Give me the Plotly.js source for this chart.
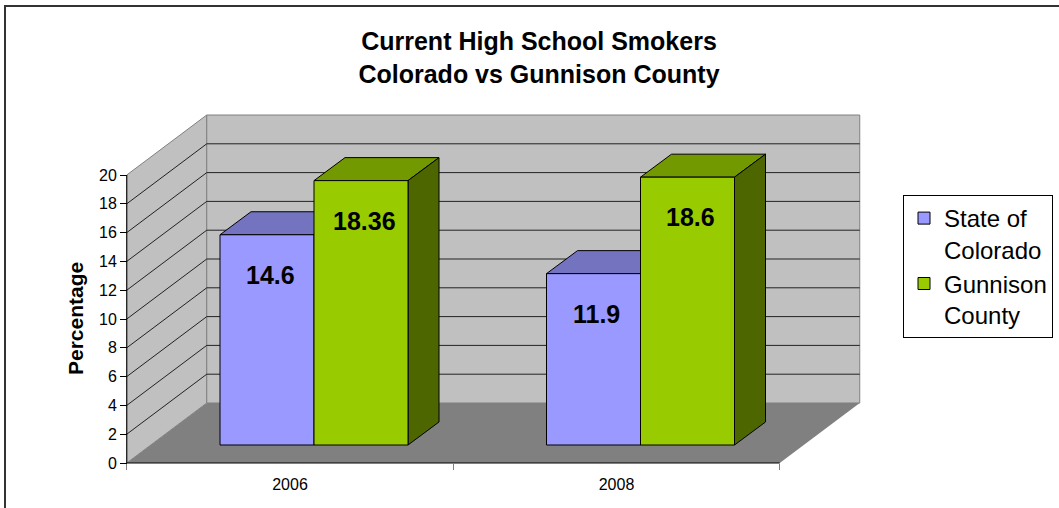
<!DOCTYPE html>
<html><head><meta charset="utf-8">
<script src="https://cdn.plot.ly/plotly-3.0.1.min.js"></script>
<style>
html,body{margin:0;padding:0;background:#fff;overflow:hidden}
#chart{width:1059px;height:508px}
#frame{position:absolute;left:4px;top:5px;width:1100px;height:600px;border:2px solid #333;pointer-events:none;box-sizing:border-box}
</style></head><body>
<div id="chart"></div><div id="frame"></div>
<script>
// ---- data ----
const years = ['2006', '2008'];
const seriesNames = ['State of<br>Colorado', 'Gunnison<br>County'];
const colorado = [14.6, 11.9];
const gunnison = [18.36, 18.6];
const yTickVals = [0, 2, 4, 6, 8, 10, 12, 14, 16, 18, 20];
const yMax = 20;

// ---- geometry (pixels) ----
const PX_X = 326.5, PX_Y = 14.4;          // pixels per category / per unit
const ORIGIN_X = 290, ORIGIN_Y = 463;     // front plane: category 0 centre, value 0
const BAR_DX = 24, BAR_DY = 18;           // bar plane offset from front plane
const TOP_DX = 31, TOP_DY = 23;           // bar depth
const WALL_DX = 80, WALL_DY = 60;         // back wall offset
const PLOT_L = 117, PLOT_R = 870, PLOT_T = 105, PLOT_B = 473;
const W = 1059, H = 508;
const PW = PLOT_R - PLOT_L, PH = PLOT_B - PLOT_T;

const xr1 = [(PLOT_L - ORIGIN_X) / PX_X, (PLOT_R - ORIGIN_X) / PX_X];
const yr1 = [(ORIGIN_Y - PLOT_B) / PX_Y, (ORIGIN_Y - PLOT_T) / PX_Y];
const xr2 = [(PLOT_L - ORIGIN_X - BAR_DX) / PX_X, (PLOT_R - ORIGIN_X - BAR_DX) / PX_X];
const yr2 = [(ORIGIN_Y - BAR_DY - PLOT_B) / PX_Y, (ORIGIN_Y - BAR_DY - PLOT_T) / PX_Y];

const BW = 94 / PX_X;
const DDX = TOP_DX / PX_X, DDY = TOP_DY / PX_Y;
const DXB = WALL_DX / PX_X, DYB = WALL_DY / PX_Y;
const catX = years.map((_, i) => i);
const xLeft = -0.5, xRight = years.length - 0.5;

const front = ['#9999FF', '#99CC00'];
const topC = ['#7373BF', '#739900'];
const sideC = ['#4D4D80', '#4D6600'];
const offsets = [-BW, 0];
const series = [colorado, gunnison];

const shapes = [];
const P = pts => 'M' + pts.map(p => p[0] + ',' + p[1]).join('L') + 'Z';
// floor
shapes.push({type:'path', xref:'x', yref:'y', layer:'below', fillcolor:'#808080', line:{width:0},
  path:P([[xLeft,0],[xRight,0],[xRight+DXB,DYB],[xLeft+DXB,DYB]])});
// side wall
shapes.push({type:'path', xref:'x', yref:'y', layer:'below', fillcolor:'#C0C0C0', line:{color:'#808080', width:1},
  path:P([[xLeft,0],[xLeft,yMax],[xLeft+DXB,yMax+DYB],[xLeft+DXB,DYB]])});
// back wall
shapes.push({type:'path', xref:'x', yref:'y', layer:'below', fillcolor:'#C0C0C0', line:{color:'#808080', width:1},
  path:P([[xLeft+DXB,DYB],[xLeft+DXB,yMax+DYB],[xRight+DXB,yMax+DYB],[xRight+DXB,DYB]])});
// gridlines
yTickVals.filter(v => v > 0 && v < yMax).forEach(v => {
  shapes.push({type:'line', xref:'x', yref:'y', layer:'below', line:{color:'#222', width:1},
    x0:xLeft, y0:v, x1:xLeft+DXB, y1:v+DYB});
  shapes.push({type:'line', xref:'x', yref:'y', layer:'below', line:{color:'#222', width:1},
    x0:xLeft+DXB, y0:v+DYB, x1:xRight+DXB, y1:v+DYB});
});
// axis lines
shapes.push({type:'line', xref:'x', yref:'y', layer:'below', line:{color:'#000', width:1}, x0:xLeft, y0:0, x1:xLeft, y1:yMax});
shapes.push({type:'line', xref:'x', yref:'y', layer:'below', line:{color:'#000', width:1}, x0:xLeft, y0:0, x1:xRight, y1:0});
// bar top and side faces
series.forEach((vals, s) => {
  vals.forEach((v, i) => {
    const l = catX[i] + offsets[s], r = l + BW;
    shapes.push({type:'path', xref:'x2', yref:'y2', layer:'below', fillcolor:topC[s], line:{color:'#000', width:1},
      path:P([[l,v],[l+DDX,v+DDY],[r+DDX,v+DDY],[r,v]])});
    shapes.push({type:'path', xref:'x2', yref:'y2', layer:'below', fillcolor:sideC[s], line:{color:'#000', width:1},
      path:P([[r,0],[r+DDX,DDY],[r+DDX,v+DDY],[r,v]])});
  });
});

const traces = series.map((vals, s) => ({
  type:'bar', x:catX, y:vals, xaxis:'x2', yaxis:'y2', name:seriesNames[s],
  width:BW, offset:offsets[s], marker:{color:front[s], line:{color:'#000', width:1}},
  hoverinfo:'skip'
}));

const annotations = [];
series.forEach((vals, s) => {
  vals.forEach((v, i) => {
    annotations.push({xref:'x2', yref:'y2', x:catX[i] + offsets[s] + BW/2, y:v, yshift:-40, xshift:3,
      text:String(v), showarrow:false, xanchor:'center', yanchor:'middle',
      font:{family:'Arial, Liberation Sans, sans-serif', size:25, color:'#000', weight:'bold'}});
  });
});
annotations.push({xref:'paper', yref:'y', x:(75 - PLOT_L) / PW, y:yMax/2, textangle:-90,
  text:'<b>Percentage</b>', showarrow:false, xanchor:'center', yanchor:'middle',
  font:{family:'Arial, Liberation Sans, sans-serif', size:21, color:'#000'}});

const layout = {
  width:W, height:H, margin:{l:PLOT_L, r:W-PLOT_R, t:PLOT_T, b:H-PLOT_B, pad:0, autoexpand:false},
  paper_bgcolor:'#fff', plot_bgcolor:'rgba(0,0,0,0)',
  font:{family:'Arial, Liberation Sans, sans-serif', color:'#000'},
  title:{text:'<b>Current High School Smokers<br>Colorado vs Gunnison County</b>',
    xref:'container', yref:'container', x:539/W, xanchor:'center', y:1-50/H, yanchor:'top',
    font:{size:25, color:'#000'}},
  showlegend:true,
  legend:{x:(903-PLOT_L)/PW, xanchor:'left', y:(PLOT_B-195)/PH, yanchor:'top',
    bgcolor:'#fff', bordercolor:'#000', borderwidth:1, valign:'top',
    font:{size:24, color:'#000'}},
  barmode:'overlay',
  xaxis:{range:xr1, anchor:'free', position:(PLOT_B-ORIGIN_Y)/PH, showgrid:false, zeroline:false, showline:false,
    tickmode:'array', tickvals:catX, ticktext:years, ticks:'', ticklabelstandoff:10,
    tickfont:{size:16, color:'#000'}, fixedrange:true,
    minor:{tickmode:'array', tickvals:[-0.5, 0.5, 1.5], ticks:'outside', ticklen:6, tickcolor:'#808080', tickwidth:1}},
  yaxis:{range:yr1, anchor:'free', position:(ORIGIN_X - 163 - PLOT_L)/PW, showgrid:false, zeroline:false, showline:false,
    tickmode:'array', tickvals:yTickVals, ticks:'outside', ticklen:7, tickcolor:'#000', tickwidth:1,
    tickfont:{size:16, color:'#000'}, fixedrange:true},
  xaxis2:{range:xr2, overlaying:'x', anchor:'y2', visible:false, fixedrange:true},
  yaxis2:{range:yr2, overlaying:'y', anchor:'x2', visible:false, fixedrange:true},
  shapes:shapes, annotations:annotations
};
Plotly.newPlot('chart', traces, layout, {displayModeBar:false, staticPlot:true});
</script></body></html>
